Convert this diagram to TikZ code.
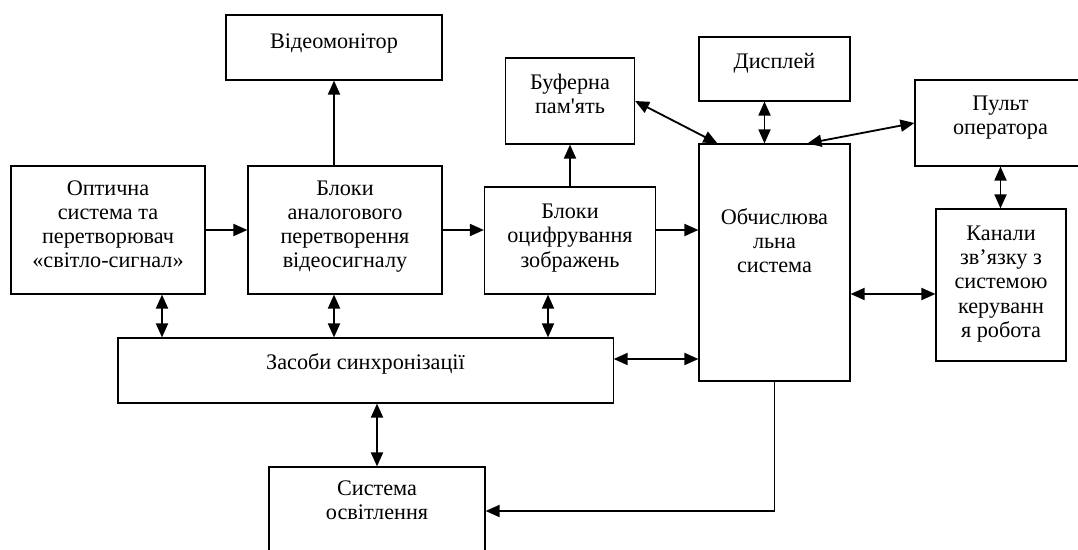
\documentclass[tikz,border=0pt]{standalone}
\usepackage{fontspec}
\setmainfont{Liberation Serif}[Ligatures=TeXOff]
\usetikzlibrary{arrows.meta,calc,positioning}

\begin{document}
\begin{tikzpicture}[x=0.025cm,y=-0.025cm,
	box/.style={draw,line width=0.8pt,align=center,inner sep=0pt,font=\fontsize{15.8}{17.1}\selectfont},
	link/.style={line width=1.3pt,-{Triangle[length=0.35cm,width=0.3cm]}},
	twoway/.style={line width=1.3pt,{Triangle[length=0.35cm,width=0.3cm]}-{Triangle[length=0.35cm,width=0.3cm]}}]
	% рамка малюнка
	\useasboundingbox (0,0) rectangle (1078,550);
	\clip (0,0) rectangle (1078,550);
	
	% блоки
	\node[box,minimum width=4.85cm,minimum height=3.2cm,text depth=0.29cm] (opt) at (108,230) {Оптична\\система та\\перетворювач\\«світло-сигнал»};
	\node[box,minimum width=4.85cm,minimum height=3.2cm,text depth=0.29cm] (anal) at (345,230) {Блоки\\аналогового\\перетворення\\відеосигналу};
	\node[box,minimum width=5.4cm,minimum height=1.625cm,text depth=0.34cm] (vm) at (334,47.5) {Відеомонітор};
	\node[box,minimum width=4.275cm,minimum height=2.675cm,text depth=0.24cm] (dig) at (570,240.5) {Блоки\\оцифрування\\зображень};
	\node[box,minimum width=3.225cm,minimum height=2.15cm,text depth=0.365cm] (buf) at (570,101) {Буферна\\пам'ять};
	\node[box,minimum width=3.775cm,minimum height=1.6cm,text depth=0.415cm] (disp) at (774.5,69) {Дисплей};
	\node[box,minimum width=3.775cm,minimum height=5.925cm,text depth=0cm,text height=0.52cm] (comp) at (774.5,262.5) {Обчислюва\\льна\\система};
	\node[box,minimum width=4.275cm,minimum height=2.15cm,text depth=0.39cm] (pult) at (1000.5,123) {Пульт\\оператора};
	\node[box,minimum width=3.25cm,minimum height=3.8cm,text depth=0.165cm] (chan) at (1001,285) {Канали\\зв’язку з\\системою\\керуванн\\я робота};
	\node[box,minimum width=12.375cm,minimum height=1.625cm,text depth=0.44cm] (sync) at (365.5,370.5) {Засоби синхронізації};
	\node[box,minimum width=5.4cm,minimum height=2.325cm,text depth=0.665cm] (light) at (377,513.5) {Система\\освітлення};
	
	% точки на рамках
	\coordinate (optS) at ($(opt.south)+(54,0)$);
	\coordinate (analS) at ($(anal.south)+(-11,0)$);
	\coordinate (digS) at ($(dig.south)+(-22,0)$);
	\coordinate (syncE) at ($(sync.east)+(0,-11.5)$);
	\coordinate (chanW) at ($(chan.west)+(0,9)$);
	\coordinate (lightE) at ($(light.east)+(0,-2.5)$);
	
	% прямий потік
	\draw[link] (opt.east) -- (anal.west);
	\draw[link] (vm.south |- anal.north) -- (vm.south);
	\draw[link] (anal.east) -- (anal.east -| dig.west);
	\draw[link] (dig.north) -- (buf.south);
	\draw[link] (dig.east |- anal.east) -- (comp.west |- anal.east);
	\draw[link] (comp.south) |- (lightE);
	
	% двобічні зв'язки
	\draw[twoway] (buf.east) -- ($(comp.north west)+(19,0)$);
	\draw[twoway] ($(disp.south)+(-10,0)$) -- ($(comp.north)+(-10,0)$);
	\draw[twoway] (pult.west) -- ($(comp.north)+(33,0)$);
	\draw[twoway] (pult.south) -- (pult.south |- chan.north);
	\draw[twoway] (comp.east |- chanW) -- (chanW);
	\draw[twoway] (syncE) -- (comp.west |- syncE);
	\draw[twoway] (optS) -- (optS |- sync.north);
	\draw[twoway] (analS) -- (analS |- sync.north);
	\draw[twoway] (digS) -- (digS |- sync.north);
	\draw[twoway] (light.north |- sync.south) -- (light.north);
\end{tikzpicture}
\end{document}
